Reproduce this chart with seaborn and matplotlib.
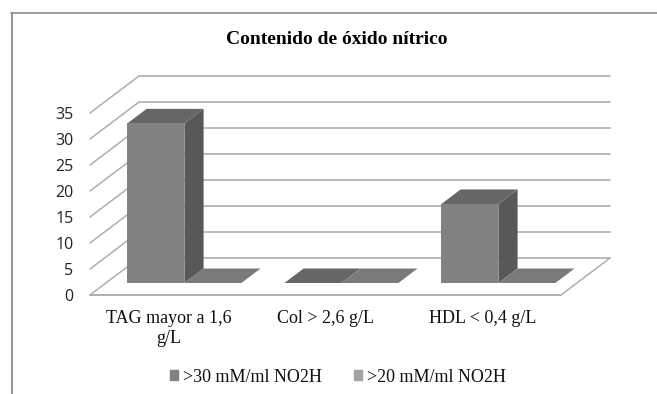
import matplotlib
matplotlib.use("Agg")
import matplotlib.pyplot as plt
import pandas as pd
import seaborn as sns
from matplotlib.patches import Polygon, Rectangle
from matplotlib.transforms import IdentityTransform, ScaledTranslation

categories = ["TAG mayor a 1,6\ng/L", "Col > 2,6 g/L", "HDL < 0,4 g/L"]
series_names = [">30 mM/ml NO2H", ">20 mM/ml NO2H"]
values_30 = [30.7, 0, 15.2]
values_20 = [0, 0, 0]
y_ticks = [0, 5, 10, 15, 20, 25, 30, 35]
title = "Contenido de óxido nítrico"

W, H, DPI = 657, 394, 100
sns.set_theme(style="white")
plt.rcParams["font.family"] = ["Liberation Serif", "DejaVu Serif"]

df = pd.DataFrame({
    "cat": categories * 2,
    "serie": [series_names[0]] * 3 + [series_names[1]] * 3,
    "val": values_30 + values_20,
})

fig = plt.figure(figsize=(W / DPI, H / DPI), dpi=DPI, facecolor="white")
ax = fig.add_axes([90 / W, 1 - 295 / H, 471 / W, 182 / H])
sns.barplot(data=df, x="cat", y="val", hue="serie", order=categories,
            hue_order=series_names, palette=["#828282", "#a3a3a3"],
            width=0.726, gap=0, ax=ax, saturation=1, linewidth=0,
            errorbar=None, legend=False)
ax.set_xlim(-0.5, 2.5)
ax.set_ylim(0, 35)
ax.patch.set_alpha(0)
for s in ax.spines.values():
    s.set_visible(False)
ax.set_xlabel("")
ax.set_ylabel("")
ax.set_yticks(y_ticks)
ax.set_xticks(range(3), categories)
ax.tick_params(axis="both", length=0)
ax.tick_params(axis="x", pad=10.5, labelsize=13, colors="#111111")
ax.tick_params(axis="y", pad=12, labelsize=11.5, colors="#222222")
for t in ax.get_yticklabels():
    t.set_family("Open Sans")
for t in ax.get_xticklabels():
    t.set_linespacing(1.25)

# Oblique projection: depth expressed as pixel shift of the data position
DX, DY = 49, 37            # full floor depth
NEAR, FAR = 12 / 37, 26.5 / 37   # bar extent within the depth


def project(x, y, depth):
    px, py = ax.transData.transform((x, y))
    return px + DX * depth, py + DY * depth


def face(points, color, z, lw=0.0, edge="none"):
    fig.add_artist(Polygon([project(*p) for p in points], closed=True,
                           transform=IdentityTransform(), facecolor=color,
                           edgecolor=edge, linewidth=lw, zorder=z))


GRID = "#aeaeae"
x0, x1 = ax.get_xlim()
for v in y_ticks:
    fig.add_artist(plt.Line2D(*zip(project(x0, v, 0), project(x0, v, 1)),
                              transform=IdentityTransform(), color=GRID, lw=1.1, zorder=1))
    fig.add_artist(plt.Line2D(*zip(project(x0, v, 1), project(x1, v, 1)),
                              transform=IdentityTransform(), color=GRID, lw=1.2, zorder=1))
fig.add_artist(plt.Line2D(*zip(project(x0, 0, 0), project(x1, 0, 0)),
                          transform=IdentityTransform(), color=GRID, lw=1.4, zorder=1))
fig.add_artist(plt.Line2D(*zip(project(x1, 0, 0), project(x1, 0, 1)),
                          transform=IdentityTransform(), color=GRID, lw=1.1, zorder=1))

# Bars: the seaborn rectangles become the front faces, moved to their depth
shift = ScaledTranslation(DX * NEAR / DPI, DY * NEAR / DPI, fig.dpi_scale_trans)
bars = [p for p in ax.patches if isinstance(p, Rectangle)]
tops = {0: "#666666", 1: "#7a7a7a"}
for i, bar in enumerate(bars):
    s = i // 3
    xa, xb = bar.get_x(), bar.get_x() + bar.get_width()
    h = bar.get_height()
    z = 3 + (bar.get_x() + 1) * 0.1
    face([(xb, 0, NEAR), (xb, 0, FAR), (xb, h, FAR), (xb, h, NEAR)], "#585858", z)
    face([(xa, h, NEAR), (xb, h, NEAR), (xb, h, FAR), (xa, h, FAR)], tops[s], z)
    bar.set_transform(ax.transData + shift)
    bar.set_clip_on(False)
    bar.remove()
    fig.add_artist(bar)
    bar.set_zorder(z + 0.01)

# Legend and title
handles = [Rectangle((0, 0), 1, 1, color=c) for c in ["#808080", "#a3a3a3"]]
fig.legend(handles, series_names, loc="center", bbox_to_anchor=(338 / W, 1 - 377 / H),
           ncol=2, frameon=False, fontsize=13, handlelength=0.45, handleheight=0.45,
           handletextpad=0.3, columnspacing=1.75, borderpad=0, labelcolor="#111111")
fig.text(336.5 / W, 1 - 40 / H, title, ha="center", va="center",
         fontsize=14, fontweight="bold", color="black")

# Chart frame
fig.add_artist(plt.Line2D([11.5, 11.5], [0, H - 13], transform=IdentityTransform(),
                          color="#969696", lw=1.5, zorder=0))
fig.add_artist(plt.Line2D([11, W], [H - 13, H - 13], transform=IdentityTransform(),
                          color="#8c8c8c", lw=1.2, zorder=0))

fig.savefig("out.png", dpi=DPI, facecolor="white")
